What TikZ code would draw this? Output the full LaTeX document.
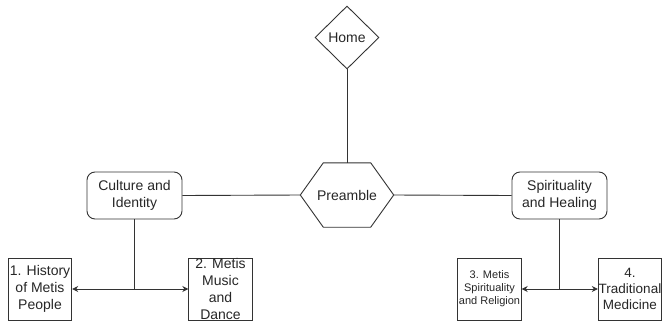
\documentclass[tikz,border=0pt]{standalone}
\usepackage{fontspec}
\setmainfont{Liberation Sans}
\usetikzlibrary{shapes.geometric,arrows.meta}
\begin{document}
\begin{tikzpicture}[x=1pt,y=-1pt,
  txt/.style={font=\fontsize{14}{17}\selectfont, align=center, text=black!85},
  conn/.style={line width=0.9pt, draw=black!80},
  rbox/.style={draw=black!80, line width=0.9pt, rounded corners=8pt, minimum width=95pt, minimum height=47pt, inner sep=0pt, txt},
  sbox/.style={draw=black!80, line width=0.9pt, minimum width=63.5pt, minimum height=62pt, inner sep=0pt, txt},
  arr/.style={conn, {Stealth[length=6pt,width=6pt]}-{Stealth[length=6pt,width=6pt]}}
]
\useasboundingbox (0,0) rectangle (662,322);
\node[diamond, draw=black!80, line width=0.9pt, minimum width=64pt, minimum height=63pt, inner sep=0pt, txt] (home) at (347,37.5) {Home};
\node[minimum width=93pt, minimum height=64pt, inner sep=0pt, txt] (pre) at (347,195) {Preamble};
\draw[conn, line join=miter] (pre.west) -- ([xshift=23pt]pre.north west) -- ([xshift=-23pt]pre.north east) -- (pre.east) -- ([xshift=-23pt]pre.south east) -- ([xshift=23pt]pre.south west) -- cycle;
\node[rbox] (cult) at (134.5,195.5) {Culture and\\Identity};
\node[rbox] (spir) at (559.5,195.5) {Spirituality\\and Healing};
\node[sbox] (b1) at (40,289) {1. History\\of Metis\\People};
\node[sbox] (b2) at (220.5,289) {2. Metis\\Music\\and\\Dance};
\node[sbox, font=\fontsize{11}{13}\selectfont] (b3) at (489.5,289) {3. Metis\\Spirituality\\and Religion};
\node[sbox, font=\fontsize{13.5}{16}\selectfont] (b4) at (630,289) {4.\\Traditional\\Medicine};
\coordinate (cj) at (134.5,289);
\coordinate (sj) at (559.5,289);
\draw[conn] (home.south) -- (pre.north);
\draw[conn] (cult.east) -- (pre.west);
\draw[conn] (pre.east) -- (spir.west);
\draw[conn] (cult.south) -- (cj);
\draw[conn] (spir.south) -- (sj);
\draw[arr] (b1.east) -- (b2.west);
\draw[arr] (b3.east) -- (b4.west);
\end{tikzpicture}
\end{document}
